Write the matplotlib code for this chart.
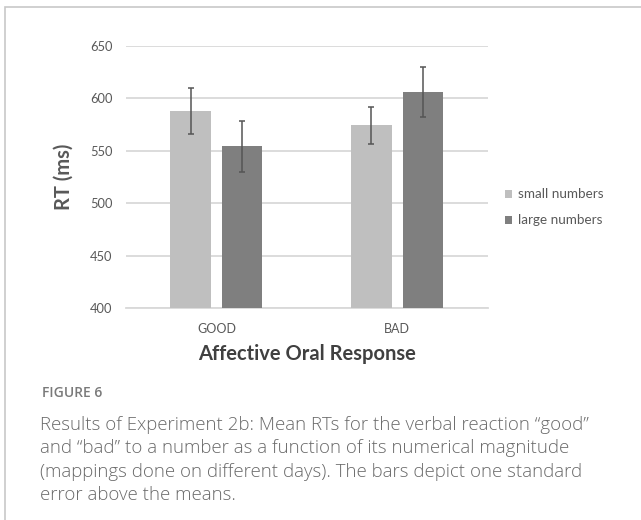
import numpy as np
import matplotlib
matplotlib.use("Agg")
import matplotlib.pyplot as plt
from matplotlib.patches import Rectangle

# Mean RTs and standard errors
categories = ["GOOD", "BAD"]
series_names = ["small numbers", "large numbers"]
small_rt = [588, 574]
large_rt = [554, 606]
small_se = [22, 17.6]
large_se = [24.5, 24]
yticks = [400, 450, 500, 550, 600, 650]

caption_title = "FIGURE 6"
caption_text = ("Results of Experiment 2b: Mean RTs for the verbal reaction \u201cgood\u201d\n"
                "and \u201cbad\u201d to a number as a function of its numerical magnitude\n"
                "(mappings done on different days). The bars depict one standard\n"
                "error above the means.")

plt.rcParams["font.family"] = ["Lato", "DejaVu Sans"]

fig = plt.figure(figsize=(6.41, 5.2), dpi=100)
W, H = 641, 520

# light frame around the figure
fig.patches.append(Rectangle((5 / W, -0.1), 1.2, 1 - 7 / H + 0.1, transform=fig.transFigure,
                             fill=False, edgecolor="#c8c8c8", linewidth=1.2))

ax = fig.add_axes([126 / W, 1 - 308 / H, 361.7 / W, (308 - 45.7) / H])
x = np.arange(len(categories))
bw = 0.223
off = 0.1427
err_kw = dict(ecolor="#555555", elinewidth=1.1, capsize=2.5, capthick=1.1)
ax.bar(x - off, small_rt, bw, bottom=0, color="#bfbfbf", yerr=small_se,
       error_kw=err_kw, label=series_names[0], zorder=3)
ax.bar(x + off, large_rt, bw, bottom=0, color="#7f7f7f", yerr=large_se,
       error_kw=err_kw, label=series_names[1], zorder=3)

ax.set_ylim(400, 650)
ax.set_xlim(-0.5, 1.5)
ax.set_yticks(yticks)
ax.yaxis.grid(True, color="#d9d9d9", linewidth=1.3, zorder=0)
ax.set_axisbelow(True)
for s in ["top", "right", "left"]:
    ax.spines[s].set_visible(False)
ax.spines["bottom"].set_color("#d9d9d9")
ax.spines["bottom"].set_linewidth(1.3)
ax.tick_params(axis="both", length=0, labelsize=9.3, labelcolor="#595959")
ax.tick_params(axis="y", pad=9.5)
ax.tick_params(axis="x", pad=10.5, labelsize=9)
ax.set_xticks(x)
ax.set_xticklabels(categories)

ax.set_ylabel("RT (ms)", fontsize=14.5, fontweight="bold", color="#595959", labelpad=12)
ax.set_xlabel("Affective Oral Response", fontsize=14.5, fontweight="bold",
              color="#404040", labelpad=7)

ax.legend(loc="center left", bbox_to_anchor=(505 / W, 1 - 207.4 / H),
          bbox_transform=fig.transFigure, frameon=False, borderpad=0,
          borderaxespad=0, fontsize=9.7, labelcolor="#595959",
          handlelength=0.55, handleheight=0.55, handletextpad=0.4,
          labelspacing=1.05)

fig.text(41.5 / W, 1 - 393 / H, caption_title, fontsize=10, color="#7a7a7a",
         family=["Open Sans", "DejaVu Sans"], va="center", fontweight="semibold")
fig.text(40.5 / W, 1 - 416 / H, caption_text, fontsize=13.4, color="#6a6a6a",
         family=["Open Sans", "DejaVu Sans"], va="top", linespacing=1.38,
         fontweight="light")

fig.savefig("out.png", dpi=100)
